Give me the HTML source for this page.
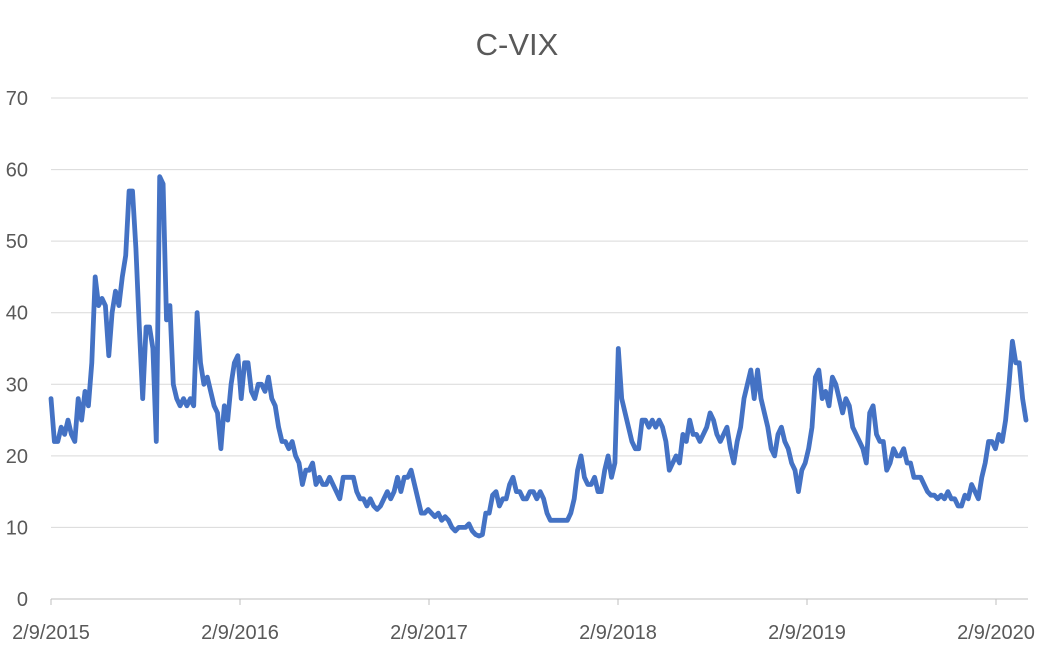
<!DOCTYPE html>
<html><head><meta charset="utf-8"><style>
body{margin:0;background:#fff;width:1053px;height:654px;overflow:hidden;font-family:"Liberation Sans",sans-serif}
svg text{font-family:"Liberation Sans",sans-serif;fill:#595959}
</style></head><body>
<svg id="chart" width="1053" height="654" viewBox="0 0 1053 654">
<text x="517" y="55" text-anchor="middle" font-size="31">C-VIX</text>
<g id="grid"></g><g id="yticks"></g><g id="xticks"></g><g id="series"></g>
</svg>
<script>
const yTicks=[0,10,20,30,40,50,60,70];
const xTickLabels=["2/9/2015","2/9/2016","2/9/2017","2/9/2018","2/9/2019","2/9/2020"];
const xTickYears=[0,1,2,3,4,5];
const cvix=[28,22,22,24,23,25,23,22,28,25,29,27,33,45,41,42,41,34,40,43,41,45,48,57,57,49,38,28,38,38,35,22,59,58,39,41,30,28,27,28,27,28,27,40,33,30,31,29,27,26,21,27,25,30,33,34,28,33,33,29,28,30,30,29,31,28,27,24,22,22,21,22,20,19,16,18,18,19,16,17,16,16,17,16,15,14,17,17,17,17,15,14,14,13,14,13,12.5,13,14,15,14,15,17,15,17,17,18,16,14,12,12,12.5,12,11.5,12,11,11.5,11,10,9.5,10,10,10,10.5,9.5,9,8.8,9,12,12,14.5,15,13,14,14,16,17,15,15,14,14,15,15,14,15,14,12,11,11,11,11,11,11,12,14,18,20,17,16,16,17,15,15,18,20,17,19,35,28,26,24,22,21,21,25,25,24,25,24,25,24,22,18,19,20,19,23,22,25,23,23,22,23,24,26,25,23,22,23,24,21,19,22,24,28,30,32,28,32,28,26,24,21,20,23,24,22,21,19,18,15,18,19,21,24,31,32,28,29,27,31,30,28,26,28,27,24,23,22,21,19,26,27,23,22,22,18,19,21,20,20,21,19,19,17,17,17,16,15,14.5,14.5,14,14.5,14,15,14,14,13,13,14.5,14,16,15,14,17,19,22,22,21,23,22,25,30,36,33,33,28,25];
const NS="http://www.w3.org/2000/svg";
const X0=51,X1=1028,Y0=599,Y70=98,pxYear=189;
const y=v=>Y0-(v/70)*(Y0-Y70);
const xi=i=>X0+i*(1026-X0)/(cvix.length-1);
const mk=(t,a,p)=>{const e=document.createElementNS(NS,t);for(const k in a)e.setAttribute(k,a[k]);p.appendChild(e);return e;};
const grid=document.getElementById('grid'),yt=document.getElementById('yticks'),xt=document.getElementById('xticks'),se=document.getElementById('series');
yTicks.forEach(v=>{
 if(v>0){const l=mk('line',{x1:X0,x2:X1,y1:y(v),y2:y(v),stroke:'#d9d9d9','stroke-width':1},grid);
 
 }
 const t=mk('text',{x:28,y:y(v)+7,'text-anchor':'end','font-size':20},yt);t.textContent=v;
 
 
});
const ax=mk('line',{x1:X0,x2:X1,y1:Y0,y2:Y0,stroke:'#bfbfbf','stroke-width':1},grid);


xTickYears.forEach((yr,i)=>{
 const x=X0+yr*pxYear;
 const tk=mk('line',{x1:x,x2:x,y1:Y0,y2:Y0+6,stroke:'#bfbfbf'},xt);
 
 
 const t=mk('text',{x:x,y:639,'text-anchor':'middle','font-size':20},xt);t.textContent=xTickLabels[i];
 
 
});
const d=cvix.map((v,i)=>(i?'L':'M')+xi(i).toFixed(1)+' '+y(v).toFixed(1)).join('');
const p=mk('path',{d:d,fill:'none',stroke:'#4472C4','stroke-width':4.8,'stroke-linejoin':'round','stroke-linecap':'round'},se);


</script>
</body></html>
